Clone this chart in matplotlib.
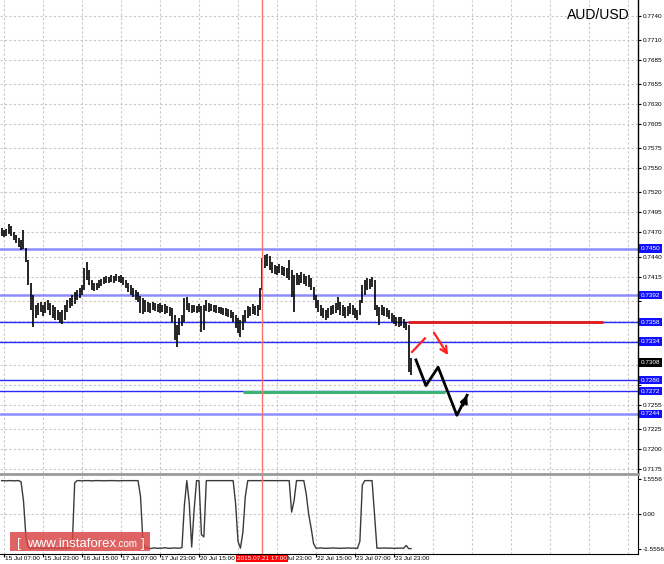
import numpy as np
import matplotlib.pyplot as plt
from matplotlib.transforms import blended_transform_factory
from matplotlib.patches import Rectangle

plt.rcParams['font.family'] = ['Liberation Sans', 'DejaVu Sans']

# ---- data (H1 bars, index 0 = 15 Jul 07:00) ----
first_bar = -1
highs = [
    .7476, .7473, .7474, .7481, .7478, .7471, .7467, .7463, .7461, .7473,
    .7451, .7436, .7407, .7392, .7380, .7382, .7383, .7380, .7383, .7386,
    .7382, .7380, .7377, .7373, .7371, .7373, .7380, .7386, .7388, .7392,
    .7396, .7398, .7401, .7404, .7426, .7433, .7423, .7411, .7407, .7407,
    .7411, .7412, .7415, .7416, .7415, .7417, .7416, .7418, .7416, .7417,
    .7415, .7411, .7407, .7404, .7401, .7398, .7396, .7391, .7388, .7386,
    .7383, .7382, .7383, .7382, .7381, .7382, .7380, .7381, .7378, .7377,
    .7376, .7367, .7355, .7363, .7367, .7388, .7390, .7382, .7380, .7380,
    .7378, .7381, .7378, .7380, .7386, .7382, .7381, .7380, .7380, .7377,
    .7377, .7376, .7376, .7375, .7373, .7371, .7367, .7363, .7361, .7367,
    .7373, .7378, .7377, .7381, .7378, .7380, .7401, .7438, .7442, .7443,
    .7441, .7433, .7429, .7428, .7431, .7428, .7427, .7426, .7436, .7423,
    .7417, .7419, .7417, .7421, .7418, .7416, .7417, .7413, .7402, .7392,
    .7386, .7380, .7376, .7373, .7376, .7378, .7380, .7382, .7390, .7383,
    .7380, .7377, .7378, .7382, .7380, .7376, .7373, .7386, .7404, .7411,
    .7413, .7412, .7415, .7411, .7380, .7377, .7380, .7377, .7376, .7373,
    .7370, .7367, .7365, .7364, .7365, .7362, .7358, .7355, .7313,
]
lows = [
    .7466, .7464, .7466, .7468, .7466, .7461, .7457, .7452, .7448, .7449,
    .7433, .7404, .7373, .7352, .7363, .7367, .7371, .7366, .7370, .7373,
    .7367, .7363, .7361, .7361, .7357, .7356, .7361, .7371, .7376, .7378,
    .7381, .7386, .7388, .7392, .7398, .7411, .7404, .7398, .7397, .7398,
    .7401, .7403, .7406, .7407, .7407, .7408, .7407, .7409, .7408, .7407,
    .7404, .7401, .7396, .7392, .7390, .7386, .7383, .7370, .7368, .7371,
    .7371, .7370, .7373, .7372, .7371, .7370, .7371, .7368, .7370, .7366,
    .7358, .7336, .7327, .7342, .7353, .7358, .7373, .7371, .7370, .7371,
    .7370, .7371, .7346, .7348, .7372, .7371, .7372, .7371, .7370, .7370,
    .7368, .7367, .7366, .7365, .7363, .7358, .7351, .7345, .7340, .7348,
    .7358, .7363, .7366, .7368, .7367, .7366, .7373, .7398, .7426, .7428,
    .7423, .7419, .7418, .7417, .7419, .7417, .7416, .7413, .7411, .7390,
    .7371, .7404, .7404, .7407, .7406, .7403, .7402, .7398, .7386, .7376,
    .7371, .7366, .7363, .7361, .7363, .7367, .7368, .7370, .7373, .7367,
    .7366, .7363, .7366, .7368, .7367, .7363, .7361, .7367, .7382, .7392,
    .7398, .7399, .7402, .7373, .7366, .7355, .7367, .7366, .7365, .7362,
    .7358, .7356, .7353, .7352, .7353, .7351, .7348, .7296, .7292,
]
last_price = 0.7308

indicator = [
    1.50, 1.50, 1.49, 1.50, 1.50, 1.49, 1.50, 1.50, 1.45, 0.60,
    -1.00, -1.48, -1.50, -1.51, -1.50, -1.49, -1.50, -1.50, -1.51, -1.50,
    -1.49, -1.50, -1.50, -1.50, -1.51, -1.50, -1.50, -1.49, -1.50, -1.40,
    1.40, 1.50, 1.50, 1.49, 1.50, 1.50, 1.50, 1.49, 1.50, 1.50,
    1.50, 1.50, 1.49, 1.50, 1.50, 1.50, 1.50, 1.50, 1.49, 1.50,
    1.50, 1.50, 1.50, 1.50, 1.50, 1.50, 1.50, 0.80, -1.20, -1.50,
    -1.48, -1.52, -1.50, -1.49, -1.51, -1.50, -1.50, -1.48, -1.50, -1.51,
    -1.50, -1.49, -1.50, -1.50, -1.48, 0.40, 1.50, 0.50, -1.45, 0.20,
    1.50, 1.50, -0.90, -1.00, 1.50, 1.50, 1.50, 1.50, 1.50, 1.50,
    1.50, 1.50, 1.50, 1.50, 1.50, 1.50, 0.50, -1.20, -1.50, -0.80,
    0.80, 1.50, 1.50, 1.50, 1.50, 1.50, 1.50, 1.50, 1.50, 1.50,
    1.50, 1.50, 1.50, 1.50, 1.50, 1.50, 1.50, 1.50, 1.50, 0.10,
    0.60, 1.50, 1.50, 1.50, 1.50, 0.90, 0.00, -0.60, -1.30, -1.50,
    -1.50, -1.49, -1.50, -1.51, -1.50, -1.50, -1.49, -1.50, -1.50, -1.51,
    -1.50, -1.50, -1.49, -1.50, -1.50, -1.50, -1.51, -1.20, 1.30, 1.50,
    1.50, 1.50, 1.50, 0.00, -1.50, -1.50, -1.50, -1.49, -1.50, -1.50,
    -1.50, -1.51, -1.50, -1.50, -1.50, -1.50, -1.38, -1.52, -1.52,
]
ind_ticks = [1.5556, 0.0, -1.5556]
ind_tick_labels = ['1.5556', '0.00', '-1.5556']

price_ticks = [0.7740, 0.7710, 0.7685, 0.7655, 0.7630, 0.7605, 0.7575, 0.7550,
               0.7520, 0.7495, 0.7470, 0.7440, 0.7415, 0.7385, 0.7360, 0.7335,
               0.7305, 0.7280, 0.7255, 0.7225, 0.7200, 0.7175]
# these sit under the boxed level labels, so only the grid line shows
hidden_ticks = [0.7385, 0.7360, 0.7335, 0.7305, 0.7280]

time_tick_bars = [0, 16, 32, 48, 64, 80, 96, 112, 128, 144, 160]
time_tick_labels = ['15 Jul 07:00', '15 Jul 23:00', '16 Jul 15:00', '17 Jul 07:00',
                    '17 Jul 23:00', '20 Jul 15:00', '', 'Jul 23:00',
                    '22 Jul 15:00', '23 Jul 07:00', '23 Jul 23:00']
marker_bar = 106
marker_label = '2015.07.21 17:00'

# horizontal levels: (price, light/thick?)
levels = [0.7450, 0.7392, 0.7358, 0.7334, 0.7286, 0.7272, 0.7244]
level_light = [True, True, False, False, False, False, True]

red_level, red_from, red_to = 0.7358, 165.7, 245.7
green_level, green_from, green_to = 0.72705, 98.0, 181.0

# forecast paths (bar index, price)
black_path_x = [169.0, 173.1, 178.1, 185.8, 190.0]
black_path_y = [0.7311, 0.7279, 0.7302, 0.7242, 0.7267]
red_up_x = [167.4, 172.7]
red_up_y = [0.7321, 0.7338]
red_down_x = [176.4, 182.2]
red_down_y = [0.7345, 0.7317]

# ---- figure ----
W, H = 664, 564
fig = plt.figure(figsize=(W / 100, H / 100), dpi=100)


def fy(py):
    return 1 - py / H


x_lo, x_hi = -1.64, 260.1
ax = fig.add_axes([0, fy(473), 638 / W, 473 / H])
axi = fig.add_axes([0, fy(554), 638 / W, (554 - 475) / H])

grid_kw = dict(color='#c8c8c8', lw=0.8, ls=(0, (2, 2)), zorder=0)
grid_bars = np.arange(0, 262, 16)

# main panel
idx = np.arange(first_bar, first_bar + len(highs))
for b in grid_bars:
    ax.axvline(b, **grid_kw)
for p in price_ticks:
    ax.axhline(p, **grid_kw)

for lv, light in zip(levels, level_light):
    if light:
        ax.axhline(lv, color='#8c8cff', lw=1.8, zorder=2)
    else:
        ax.axhline(lv, color='#2a2aff', lw=1.0, zorder=2)

ax.hlines(green_level, green_from, green_to, color='#3cb371', lw=2.2, zorder=3)
ax.hlines(red_level, red_from, red_to, color='#e01818', lw=2.0, zorder=3)

ax.vlines(idx, lows, highs, color='black', lw=1.2, zorder=4)
ax.axvline(marker_bar, color='#ff7070', lw=1.0, zorder=5)
axi.axvline(marker_bar, color='#ff7070', lw=1.0, zorder=5)

ax.plot(black_path_x, black_path_y, color='black', lw=2.0, zorder=6)
ax.annotate('', xy=(black_path_x[-1], black_path_y[-1]),
            xytext=(black_path_x[-2] + 2.5, black_path_y[-2] + 0.00125),
            arrowprops=dict(arrowstyle='->', color='black', lw=2.0,
                            mutation_scale=10, shrinkA=0, shrinkB=0), zorder=6)
ax.plot(red_up_x, red_up_y, color='#ff2020', lw=1.6, zorder=6)
ax.annotate('', xy=(red_down_x[-1], red_down_y[-1]),
            xytext=(red_down_x[0], red_down_y[0]),
            arrowprops=dict(arrowstyle='->', color='#ff2020', lw=1.6,
                            mutation_scale=12, shrinkA=0, shrinkB=0), zorder=6)

ax.set_xlim(x_lo, x_hi)
ax.set_ylim(0.71700, 0.77600)
ax.set_xticks([])
ax.yaxis.tick_right()
ax.set_yticks(price_ticks)
ax.set_yticklabels(['' if p in hidden_ticks else f'{p:.4f}' for p in price_ticks])
ax.tick_params(axis='y', labelsize=4.6, length=2, width=0.8, pad=1.5)
for s in ['top', 'left', 'bottom']:
    ax.spines[s].set_visible(False)
ax.spines['right'].set_linewidth(1.0)

# boxed level labels on the price axis
ytr = blended_transform_factory(ax.transAxes, ax.transData)
for lv in levels:
    ax.text(1.0045, lv, f'{lv:.4f}', transform=ytr, ha='left', va='center',
            fontsize=4.6, color='white', clip_on=False, zorder=10,
            bbox=dict(facecolor='#1010ff', edgecolor='none', pad=1.2))
ax.text(1.0045, last_price, f'{last_price:.4f}', transform=ytr, ha='left',
        va='center', fontsize=4.6, color='white', clip_on=False, zorder=10,
        bbox=dict(facecolor='black', edgecolor='none', pad=1.2))

fig.text(630 / W, fy(15), 'AUD/USD', ha='right', va='center', fontsize=10)

# separator between panels
fig.add_artist(plt.Line2D([0, 638 / W], [fy(474), fy(474)], color='#9a9a9a', lw=2.0))

# indicator panel
ind_idx = np.arange(first_bar, first_bar + len(indicator))
for b in grid_bars:
    axi.axvline(b, **grid_kw)
axi.axhline(0, **grid_kw)
axi.plot(ind_idx, indicator, color='#3a3a3a', lw=1.0, zorder=3)
axi.set_xlim(x_lo, x_hi)
axi.set_ylim(-1.76, 1.75)
axi.yaxis.tick_right()
axi.set_yticks(ind_ticks)
axi.set_yticklabels(ind_tick_labels)
axi.tick_params(axis='y', labelsize=4.6, length=2, width=0.8, pad=1.5)
axi.set_xticks(time_tick_bars)
axi.set_xticklabels([])
axi.tick_params(axis='x', length=2, width=0.8)
for s in ['top', 'left']:
    axi.spines[s].set_visible(False)

xtr = blended_transform_factory(axi.transData, axi.transAxes)
for b, lab in zip(time_tick_bars, time_tick_labels):
    if not lab:
        continue
    if lab.startswith('Jul'):
        # first part of this label is covered by the marker box
        axi.text(b + 3.6, -0.025, lab, transform=xtr, ha='left', va='top',
                 fontsize=4.6, clip_on=False)
    else:
        axi.text(b + 0.4, -0.025, lab, transform=xtr, ha='left', va='top',
                 fontsize=4.6, clip_on=False)
axi.text(marker_bar, -0.025, marker_label, transform=xtr, ha='center', va='top',
         fontsize=4.6, color='white', clip_on=False, zorder=10,
         bbox=dict(facecolor='#ff0000', edgecolor='none', pad=0.8))

# watermark
fig.add_artist(Rectangle((10 / W, fy(551)), 140 / W, 19 / H, transform=fig.transFigure,
                         facecolor='#d94848', alpha=0.85, edgecolor='none', zorder=20))
fig.text(17 / W, fy(547), '[', ha='left', va='baseline', fontsize=9.5,
         color='white', zorder=21)
fig.text(27 / W, fy(547), 'www.instaforex', ha='left', va='baseline', fontsize=9.5,
         color='white', zorder=21)
fig.text(116 / W, fy(547), '.com', ha='left', va='baseline', fontsize=7,
         color='white', zorder=21)
fig.text(141 / W, fy(547), ']', ha='left', va='baseline', fontsize=9.5,
         color='white', zorder=21)

fig.savefig('out.png', dpi=100)
